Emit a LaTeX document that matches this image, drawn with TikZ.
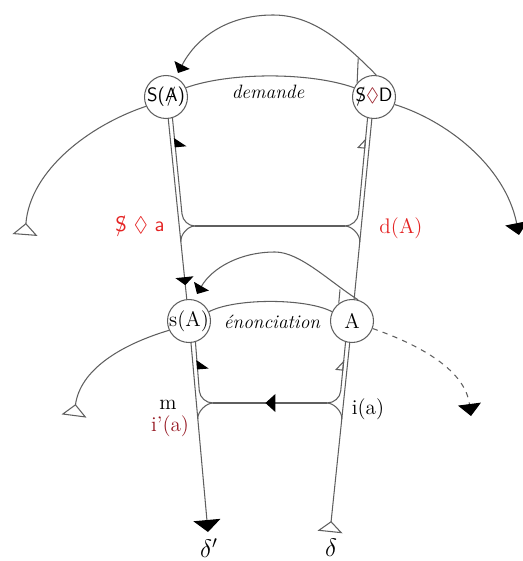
\documentclass[tikz,border=0pt]{standalone}
\usepackage{fontspec}
\usepackage{amssymb}
\usetikzlibrary{arrows.meta, decorations.markings}
\definecolor{linegray}{RGB}{95,95,95}
\definecolor{brightred}{RGB}{228,35,35}
\definecolor{darkred}{RGB}{150,25,35}
\newcommand{\barred}[1]{\ooalign{#1\cr\hidewidth/\hidewidth\cr}}

\begin{document}
\begin{tikzpicture}[
        x=0.02cm, y=-0.02cm,
        ring/.style={circle, draw=linegray, line width=0.6pt, minimum size=0.86cm, inner sep=-2pt, font=\large},
        wire/.style={draw=linegray, line width=0.6pt},
        arcend/.style={-{Triangle[width=0.34cm, length=0.18cm, color=black]}},
        bigend/.style={-{Triangle[width=0.46cm, length=0.24cm, color=black]}},
        openend/.style={-{Triangle[open, reversed, width=0.5cm, length=0.24cm]}},
        midtip/.style 2 args={decoration={markings, mark=at position #1 with {\arrow{#2}}}, postaction={decorate}}
    ]
        \useasboundingbox (0,0) rectangle (523,561);

        % Upper level
        \node[ring, font={\fontsize{11}{13}\selectfont\sffamily}] (SA) at (166,97) {S(\barred{A})};
        \node[ring, font={\fontsize{11}{13}\selectfont\sffamily}] (SD) at (374,97) {\barred{S}\textcolor{darkred}{$\lozenge$}D};

        % Lower level
        \node[ring] (sA) at (189,321) {s(A)};
        \node[ring] (A) at (352,321) {A};

        \coordinate (dp) at (208,532);
        \coordinate (d) at (330,532);
        \coordinate (tk) at (358.2,58.3);
        \coordinate (tk2) at (340,289.5);

        % Main lines
        \draw[wire, midtip={-0.28cm}{Triangle[width=0.36cm, length=0.16cm, color=black]}] (SA) -- (sA);
        \draw[wire, -{Triangle[width=0.54cm, length=0.24cm, color=black]}] (sA) -- (dp);
        \draw[wire] (SD) -- (A);
        \draw[wire, {Triangle[open, reversed, width=0.5cm, length=0.22cm]}-] (d) -- (A);

        % Upper crossing
        \draw[wire, midtip={-0.4cm}{Triangle[harpoon, swap, width=0.44cm, length=0.18cm, color=black]}] (195,226) .. controls (188.4,226) and (182.7,220.6) .. (182,214) -- (SA.-73);
        \draw[wire] (195,226) .. controls (187.5,226) and (180.2,235) .. (180.9,242);
        \draw[wire] (195,226) -- (345,226);
        \draw[wire, midtip={-0.4cm}{Triangle[open, harpoon, width=0.3cm, length=0.2cm]}] (345,226) .. controls (351.4,226) and (357.9,220.6) .. (358.5,214) -- (SD.-107);
        \draw[wire] (345,226) .. controls (352,226) and (360.5,235) .. (359.8,242);

        % Lower crossing
        \draw[wire, midtip={-0.36cm}{Triangle[harpoon, swap, width=0.44cm, length=0.18cm, color=black]}] (213,403) .. controls (206,403) and (200,397.6) .. (199.3,391) -- (sA.-73);
        \draw[wire] (213,403) .. controls (206,403) and (197.2,412) .. (197.8,419);
        \draw[wire, midtip={0.54}{Triangle[width=0.36cm, length=0.2cm, color=black]}] (327,403) -- (213,403);
        \draw[wire, midtip={-0.36cm}{Triangle[open, harpoon, width=0.3cm, length=0.2cm]}] (327,403) .. controls (334,403) and (340.2,397.6) .. (340.7,391) -- (A.-107);
        \draw[wire] (327,403) .. controls (334,403) and (342.5,412) .. (341.8,419);

        % Upper arcs
        \draw[wire] (SA.25) .. controls (230,72) and (310,72) .. (SD.155);
        \draw[wire, arcend] (SD.84) .. controls (340,38) and (310,15) .. (273,15) .. controls (225,15) and (195,40) .. (178,73);
        \draw[wire] (SD.140) -- (tk);
        \draw[wire, openend] (SA.205) .. controls (90,125) and (30,170) .. (25,235);
        \draw[wire, bigend] (SD.-20) .. controls (445,120) and (505,165) .. (519,235);

        % Lower arcs
        \draw[wire] (sA.25) .. controls (235,298) and (306,298) .. (A.155);
        \draw[wire, arcend] (A.74) .. controls (330,282) and (300,252) .. (275,252) .. controls (240,252) and (212,268) .. (197,294);
        \draw[wire] (A.127) -- (tk2);
        \draw[wire, openend] (sA.205) .. controls (120,345) and (80,370) .. (74,416);
        \draw[wire, dashed, bigend] (A.-20) .. controls (420,345) and (465,370) .. (471,416);

        % Labels
        \node[font={\fontsize{11}{13}\selectfont\itshape}] (dem) at (268,92) {demande};
        \node[font={\fontsize{11}{13}\selectfont\itshape}] (enon) at (272,322) {énonciation};
        \node[text=brightred, font=\large\sffamily] (sa) at (140,227) {\barred{S} $\lozenge$ a};
        \node[text=brightred, font=\large] (dA) at (401,228) {d(A)};
        \node[font=\large] (m) at (168,405) {m};
        \node[text=darkred, font=\large] (ipa) at (170,426) {i'(a)};
        \node[font=\large] (ia) at (368,409) {i(a)};
        \node[font=\Large] (dpl) at (209,548) {$\delta'$};
        \node[font=\Large] (dl) at (331,548) {$\delta$};
\end{tikzpicture}
\end{document}
